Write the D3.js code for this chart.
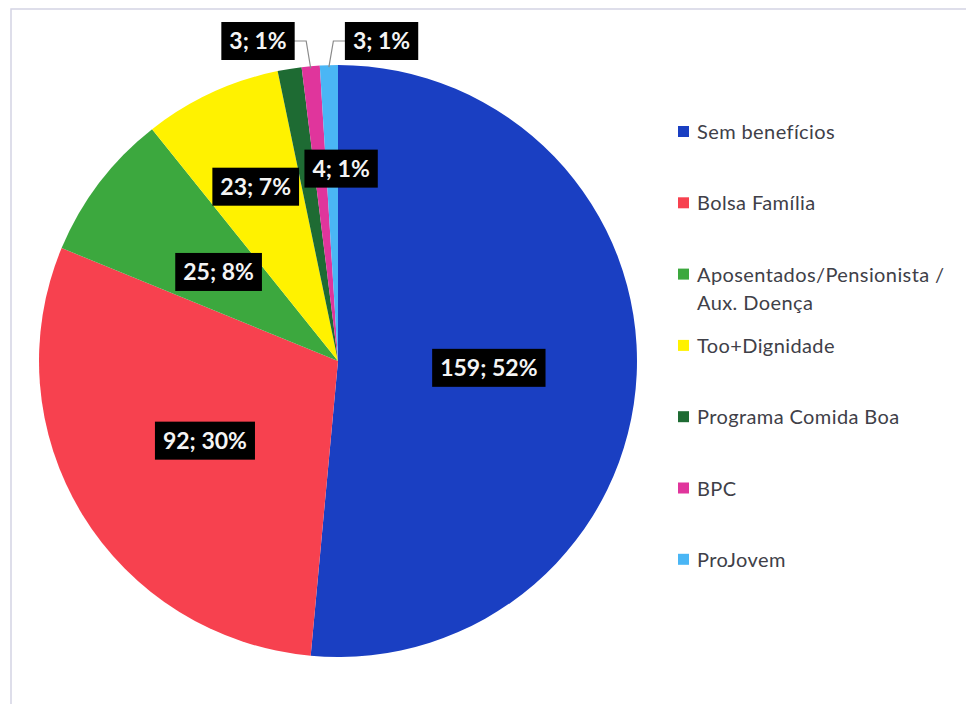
<!DOCTYPE html>
<meta charset="utf-8">

<script src="https://d3js.org/d3.v7.min.js"></script>

<style>
  body { margin: 0; background: #fff; }
  text { font-family: Lato, "Noto Sans", sans-serif; }
  .legend text { fill: #404048; font-size: 20px; letter-spacing: 0.4px; }
  .lbl text { fill: #f4f4f4; font-size: 23px; font-weight: 700; }
</style>

<div id="pie_chart"></div>

<script>

// data
var categories = ["Sem benefícios", "Bolsa Família", "Aposentados/Pensionista /\nAux. Doença",
                  "Too+Dignidade", "Programa Comida Boa", "BPC", "ProJovem"];
var values = [159, 92, 25, 23, 4, 3, 3];
var percents = ["52%", "30%", "8%", "7%", "1%", "1%", "1%"];
var colors = ["#1a3fc2", "#f7414f", "#3ca83e", "#fff200", "#1e6b33", "#e0359c", "#4ab6f5"];

var width = 966, height = 704;
var cx = 338, cy = 361, r = 296, stretch = 299 / 296;

// where each data label sits: fraction of radius, or outside with a leader
var labelPlace = [
  {k: 0.505}, {k: 0.52}, {k: 0.50}, {k: 0.65}, {k: 0.65, angle: 0.016},
  {side: -1}, {side: 1}
];

var svg = d3.select("#pie_chart")
  .append("svg")
    .attr("width", width)
    .attr("height", height);

// faint frame of the scanned chart area
svg.append("path")
  .attr("d", "M11," + (height + 5) + "V9H" + (width + 5))
  .attr("fill", "none")
  .attr("stroke", "#d4d4e4")
  .attr("stroke-width", 1.5);

var pie = d3.pie().sort(null).value(function(d) { return d; });
var arcs = pie(values);
var arc = d3.arc().innerRadius(0).outerRadius(r);

var g = svg.append("g")
  .attr("transform", "translate(" + cx + "," + cy + ") scale(" + stretch + ",1)");

g.selectAll("path")
  .data(arcs)
  .enter()
  .append("path")
    .attr("d", arc)
    .attr("fill", function(d, i) { return colors[i]; });

// labels
var lbl = svg.append("g").attr("class", "lbl");

arcs.forEach(function(d, i) {
  var p = labelPlace[i];
  var mid = (d.startAngle + d.endAngle) / 2;
  var x, y, anchor = "middle";

  if (p.side) {
    // point on the rim, elbow above, box beside the elbow
    var px = cx + r * stretch * Math.sin(mid),
        py = cy - r * Math.cos(mid) + 2;
    y = cy - r - 24;
    var ex = px + p.side * 4.5;
    lbl.append("path")
      .attr("d", "M" + (ex + p.side * 20) + "," + y + "H" + ex + "L" + px + "," + py)
      .attr("fill", "none")
      .attr("stroke", "#8a8a8a")
      .attr("stroke-width", 1.2);
    x = ex + p.side * 11.5;
    anchor = p.side < 0 ? "end" : "start";
  } else {
    var a = p.angle !== undefined ? p.angle : mid;
    x = cx + r * p.k * stretch * Math.sin(a);
    y = cy - r * p.k * Math.cos(a);
  }

  var box = lbl.append("rect").attr("fill", "#000");
  var t = lbl.append("text")
    .attr("y", y)
    .attr("dy", "0.36em")
    .text(values[i] + "; " + percents[i]);

  var w = t.node().getComputedTextLength() + 16, h = 38;
  var left = anchor === "middle" ? x - w / 2 : (anchor === "end" ? x - w : x);
  box.attr("x", left).attr("y", y - h / 2).attr("width", w).attr("height", h);
  t.attr("x", left + w / 2).attr("text-anchor", "middle");
});

// legend
var legend = svg.append("g").attr("class", "legend");

categories.forEach(function(name, i) {
  var ly = 132 + i * 71.3;
  legend.append("rect")
    .attr("x", 678)
    .attr("y", ly - 6)
    .attr("width", 11)
    .attr("height", 11)
    .attr("fill", colors[i]);
  var t = legend.append("text")
    .attr("x", 697)
    .attr("y", ly)
    .attr("dy", "0.35em");
  name.split("\n").forEach(function(line, j) {
    t.append("tspan")
      .attr("x", 697)
      .attr("dy", j === 0 ? "0.35em" : "28px")
      .text(line);
  });
});

</script>
